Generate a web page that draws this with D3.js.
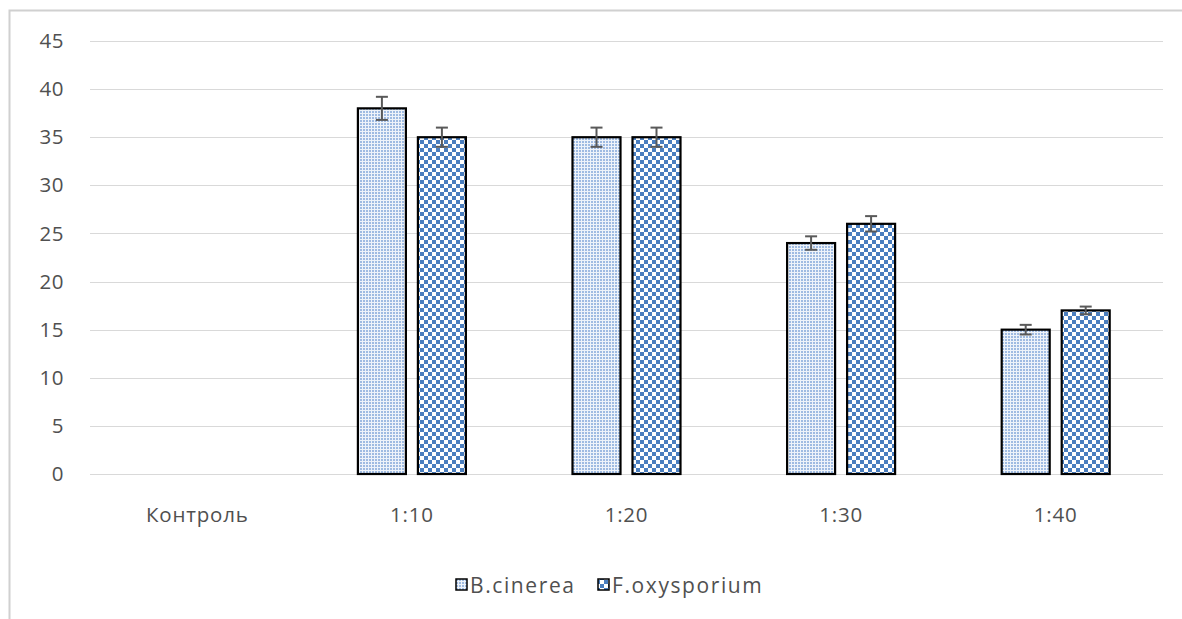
<!DOCTYPE html>
<html><head><meta charset="utf-8">
<script src="https://cdn.jsdelivr.net/npm/d3@7"></script>
<style>body{margin:0;background:#fff;} svg{display:block;} text{font-family:"Open Sans",sans-serif;}</style>
</head><body><svg id="c" width="1182" height="619"></svg>
<script>
const categories = ["Контроль","1:10","1:20","1:30","1:40"];
const seriesNames = ["B.cinerea","F.oxysporium"];
const bCinerea = [0,38,35,24,15];
const fOxysporium = [0,35,35,26,17];
const bErr = [0,1.2,1.0,0.7,0.5];
const fErr = [0,1.0,1.0,0.8,0.4];
const yTicks = [0,5,10,15,20,25,30,35,40,45];

const svg = d3.select("#c");
const defs = svg.append("defs");
const p1 = defs.append("pattern").attr("id","dots").attr("patternUnits","userSpaceOnUse").attr("width",3).attr("height",3);
p1.append("rect").attr("width",3).attr("height",3).attr("fill","#eef3fa");
p1.append("rect").attr("width",2).attr("height",2).attr("fill","#9fbbe2");
const p2 = defs.append("pattern").attr("id","check").attr("patternUnits","userSpaceOnUse").attr("width",8).attr("height",8);
p2.append("rect").attr("width",8).attr("height",8).attr("fill","#ffffff");
p2.append("rect").attr("width",4).attr("height",4).attr("fill","#4a7ebf");
p2.append("rect").attr("x",4).attr("y",4).attr("width",4).attr("height",4).attr("fill","#4a7ebf");

// chart frame
svg.append("rect").attr("x",9.5).attr("y",10.5).attr("width",1190).attr("height",640).attr("fill","none").attr("stroke","#d0d0d0").attr("stroke-width",2);

const x0 = d3.scaleBand().domain(categories).range([90,1163]);
const x1 = d3.scaleBand().domain(seriesNames).range([0,108]).paddingInner(0.2);
const y = d3.scaleLinear().domain([0,45]).range([474,41]);

// gridlines
svg.append("g").selectAll("line").data(yTicks).join("line")
  .attr("x1",90).attr("x2",1163).attr("y1",d=>Math.round(y(d))+0.5).attr("y2",d=>Math.round(y(d))+0.5)
  .attr("stroke","#d9d9d9").attr("stroke-width",1);

const font = "'Open Sans',sans-serif";
const txtCol = "#505050";
// y axis labels
const ya = svg.append("g").attr("transform","translate(64,0)")
  .call(d3.axisLeft(y).tickValues(yTicks).tickSize(0).tickPadding(0));
ya.select(".domain").remove();
ya.selectAll("text").attr("font-size",20.5).attr("fill",txtCol).attr("letter-spacing","0.5px").style("font-family",font);

// x axis labels
const xa = svg.append("g").attr("transform","translate(0,507)")
  .call(d3.axisBottom(x0).tickSize(0).tickPadding(0));
xa.select(".domain").remove();
xa.selectAll("text").attr("font-size",20.5).attr("fill",txtCol).attr("letter-spacing","0.8px").attr("dy","0.71em").style("font-family",font);

const series = [
  {name:seriesNames[0], vals:bCinerea, err:bErr, fill:"url(#dots)"},
  {name:seriesNames[1], vals:fOxysporium, err:fErr, fill:"url(#check)"}
];
series.forEach(s=>{
  const g = svg.append("g");
  const data = categories.map((c,i)=>({c, v:s.vals[i], e:s.err[i]})).filter(d=>d.v>0);
  const bx = d=> x0(d.c) + x0.bandwidth()/2 - 54 + x1(s.name);
  g.selectAll("rect").data(data).join("rect")
    .attr("x",bx).attr("y",d=>y(d.v)).attr("width",x1.bandwidth()).attr("height",d=>y(0)-y(d.v))
    .attr("fill",s.fill).attr("stroke","#000").attr("stroke-width",2.2);
  const eg = g.selectAll("g.err").data(data).join("g").attr("class","err");
  const cx = d=> bx(d)+x1.bandwidth()/2;
  eg.append("line").attr("x1",cx).attr("x2",cx).attr("y1",d=>y(d.v+d.e)).attr("y2",d=>y(d.v-d.e)).attr("stroke","#595959").attr("stroke-width",2);
  eg.append("line").attr("x1",d=>cx(d)-6).attr("x2",d=>cx(d)+6).attr("y1",d=>y(d.v+d.e)).attr("y2",d=>y(d.v+d.e)).attr("stroke","#595959").attr("stroke-width",2);
  eg.append("line").attr("x1",d=>cx(d)-6).attr("x2",d=>cx(d)+6).attr("y1",d=>y(d.v-d.e)).attr("y2",d=>y(d.v-d.e)).attr("stroke","#595959").attr("stroke-width",2);
});

// legend
const leg = svg.append("g");
const legX = [456, 598];
series.forEach((s,i)=>{
  leg.append("rect").attr("x",legX[i]).attr("y",579).attr("width",11).attr("height",11)
    .attr("fill",s.fill).attr("stroke","#000").attr("stroke-width",1.5);
  leg.append("text").attr("x",legX[i]+14).attr("y",585).attr("dy","0.36em")
    .attr("font-size",21).attr("letter-spacing","1.6px").attr("fill",txtCol).style("font-family",font).text(s.name);
});
</script></body></html>
